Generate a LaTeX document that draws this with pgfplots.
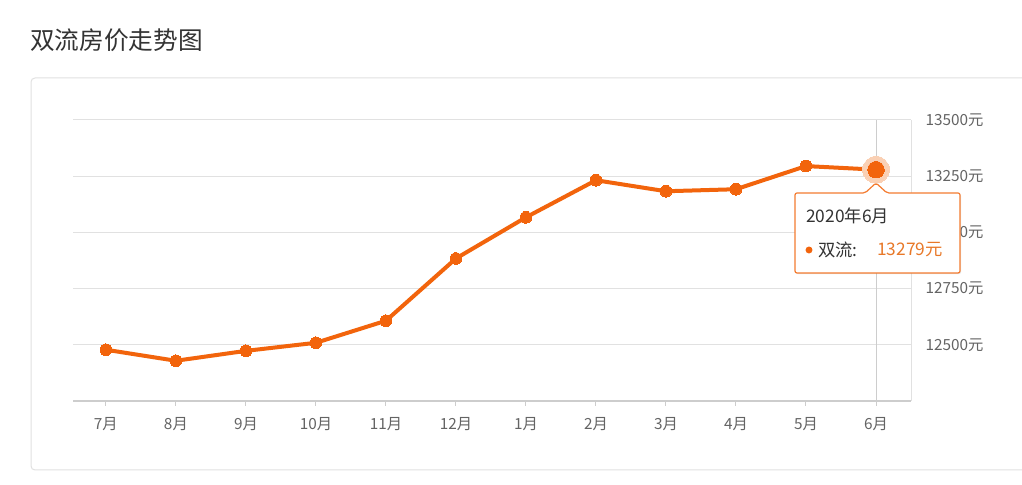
\documentclass[border=0pt]{standalone}
\usepackage{pgfplots}
\pgfplotsset{compat=1.18}
\usepackage{fontspec}
\setmainfont{Noto Sans CJK SC}
\usetikzlibrary{shadows}
\definecolor{lineor}{RGB}{242,100,12}
\definecolor{txtor}{RGB}{232,120,40}
\definecolor{gridc}{RGB}{225,225,225}
\definecolor{axc}{RGB}{205,205,205}
\definecolor{lab}{RGB}{100,100,100}
\definecolor{ttl}{RGB}{51,51,51}
\definecolor{halo}{RGB}{250,208,180}
\begin{document}
\begin{tikzpicture}
\fill[white] (0,0) rectangle (766.5pt,363.75pt);
\useasboundingbox (0,0) rectangle (766.5pt,363.75pt);
\node[anchor=west, inner sep=0, text=ttl, font=\fontsize{18.5pt}{20pt}\selectfont] at (22.5pt,333.75pt) {双流房价走势图};
\draw[gridc, line width=0.75pt, rounded corners=3pt] (23.25pt,11.25pt) rectangle (790pt,305.25pt);
\begin{axis}[
  at={(54.75pt,63pt)}, anchor=south west,
  scale only axis, width=628.5pt, height=210.75pt,
  xmin=-0.47, xmax=11.5, ymin=12250, ymax=13500,
  axis x line*=bottom, axis y line*=right,
  x axis line style={axc, line width=1.5pt, -},
  y axis line style={gridc, line width=0.75pt, -},
  xtick={0,...,11},
  xticklabels={7月,8月,9月,10月,11月,12月,1月,2月,3月,4月,5月,6月},
  ytick={12500,12750,13000,13250,13500},
  yticklabels={12500元,12750元,13000元,13250元,13500元},
  scaled y ticks=false,
  ymajorgrids, grid style={gridc, line width=0.75pt},
  tick align=outside, major tick length=3.75pt,
  x tick style={axc, line width=0.75pt},
  y tick style={draw=none},
  xticklabel style={font=\fontsize{11.5pt}{13pt}\selectfont, text=lab, yshift=-5pt},
  yticklabel style={font=\fontsize{11.5pt}{13pt}\selectfont, text=lab, anchor=west, inner sep=0pt, xshift=7pt},
  clip=false,
]
\addplot[axc, line width=0.75pt] coordinates {(11,12250) (11,13500)};
\addplot[lineor, line width=3pt, mark=*, mark size=4.4pt, mark options={fill=lineor, draw=lineor, line width=0pt}] coordinates {
(0,12478) (1,12429) (2,12473) (3,12509) (4,12607) (5,12884) (6,13067) (7,13232) (8,13183) (9,13192) (10,13295) (11,13279)};
\addplot[halo, only marks, mark=*, mark size=10pt, mark options={fill=halo, draw=halo, line width=0pt}] coordinates {(11,13279)};
\addplot[lineor, only marks, mark=*, mark size=6.2pt, mark options={fill=lineor, draw=lineor, line width=0pt}] coordinates {(11,13279)};
\end{axis}
\filldraw[fill=white, draw=lineor!85, line width=0.9pt, rounded corners=1.5pt, drop shadow={opacity=0.18, shadow xshift=0.8pt, shadow yshift=-0.8pt}]
 (596.25pt,159pt) -- (596.25pt,219pt) -- (648.75pt,219pt) -- (657pt,226.5pt) -- (665.25pt,219pt) -- (720pt,219pt) -- (720pt,159pt) -- cycle;
\node[anchor=west, inner sep=0, text=ttl, font=\fontsize{13pt}{14pt}\selectfont] at (604.5pt,201.75pt) {2020年6月};
\fill[lineor] (606.75pt,176.25pt) circle (2.6pt);
\node[anchor=west, inner sep=0, text=ttl, font=\fontsize{13pt}{14pt}\selectfont] at (613.5pt,176.25pt) {双流:};
\node[anchor=west, inner sep=0, text=txtor, font=\fontsize{13pt}{14pt}\selectfont] at (657.75pt,176.25pt) {13279元};
\end{tikzpicture}
\end{document}
